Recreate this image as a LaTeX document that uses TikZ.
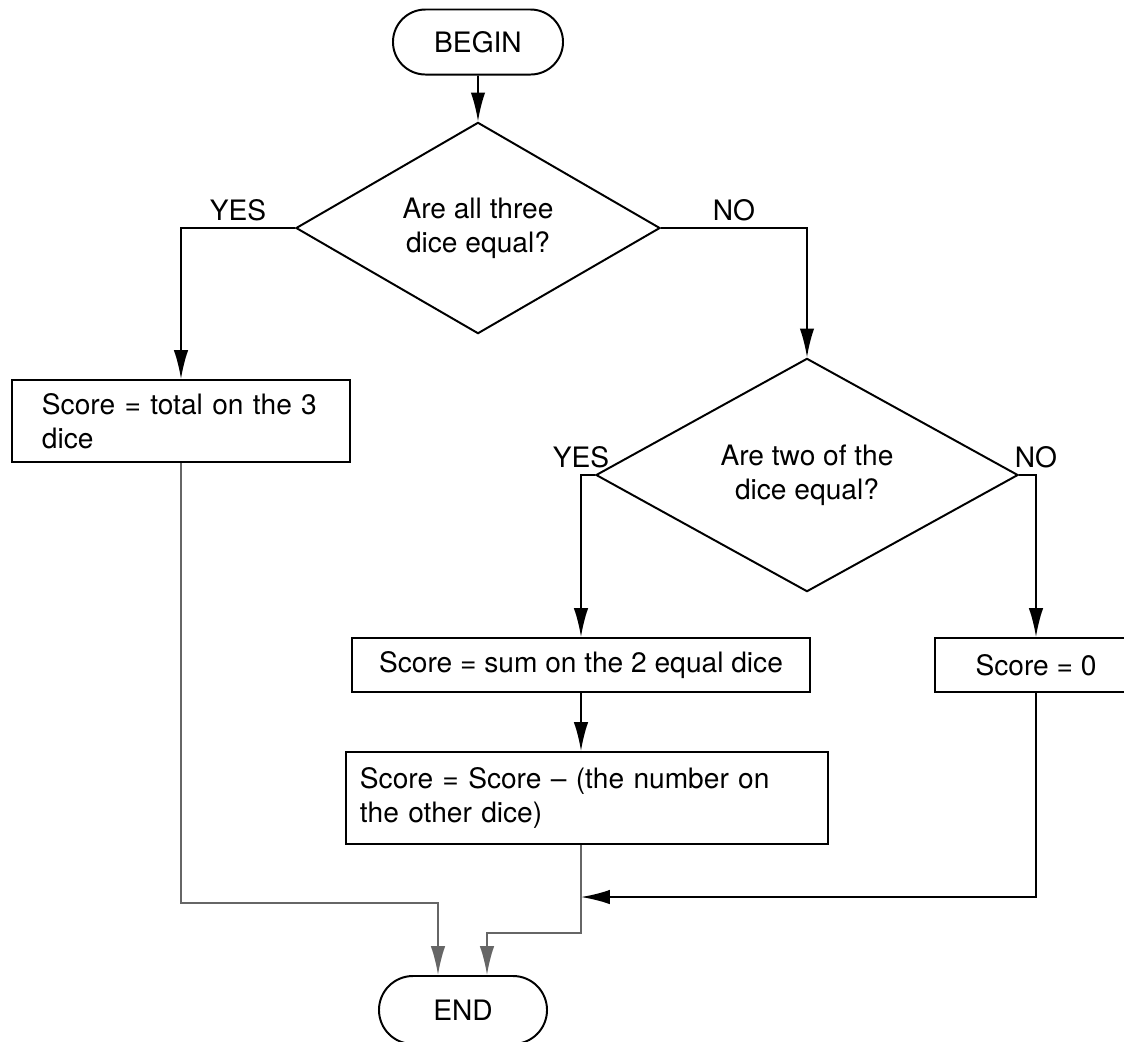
\documentclass[tikz,border=0pt]{standalone}
\usepackage{fontspec}
\setmainfont{TeX Gyre Heros}
\usetikzlibrary{shapes.geometric}
\usetikzlibrary{shapes.misc}
\usetikzlibrary{arrows.meta}

\colorlet{faint}{black!60}
\tikzset{
    term/.style={rounded rectangle,draw,inner sep=0pt},
    decision/.style={diamond,draw,inner sep=0pt,align=center},
    process/.style={rectangle,draw,inner sep=0pt},
    lbl/.style={above,inner sep=2pt}
}

\begin{document}
\begin{tikzpicture}[x=0.0125cm,y=-0.0125cm,line width=0.7pt,>={Latex[length=3.6mm,width=1.8mm]}]
        \useasboundingbox (0,0) rectangle (1124,1041);
        \clip (0,0) rectangle (1124,1041);
        \node[term,minimum width=2.125cm,minimum height=0.8125cm] (begin) at (478,42) {BEGIN};
        \node[decision,minimum width=4.55cm,minimum height=2.4375cm] (all) at (478,228) {Are all three\\dice equal?};
        \node[process,minimum height=1.025cm,text width=3.475cm,inner xsep=0.375cm,align=left] (total) at (181,421) {Score = total on the 3\\dice};
        \node[decision,minimum width=5.275cm,minimum height=2.4375cm] (two) at (807,475) {Are two of the\\dice equal?};
        \node[process,minimum width=5.7125cm,minimum height=0.675cm] (sum) at (581,665) {Score = sum on the 2 equal dice};
        \node[process,minimum width=2.525cm,minimum height=0.675cm] (zero) at (1036,665) {Score = 0};
        \node[process,minimum height=1.15cm,text width=5.675cm,inner xsep=0.175cm,align=left] (other) at (587,798) {Score = Score -- (the number on\\the other dice)};
        \node[term,minimum width=2.1cm,minimum height=0.85cm] (end) at (463,1010) {END};
        \coordinate (join) at (581,897);
        \coordinate (low) at (438,903);
        \coordinate (mid) at (487,933);
        \draw[->] (begin) -- (all);
        \draw[->] (all.west) -| node[lbl,pos=0.25] {YES} (total.north);
        \draw[->] (all.east) -| node[lbl,pos=0.25] {NO} (two.north);
        \draw[->] (two.west) -| node[lbl,pos=0.5] {YES} (sum.north);
        \draw[->] (two.east) -| node[lbl,pos=0.5] {NO} (zero.north);
        \draw[->] (sum) -- (sum.south |- other.north);
        \draw[->] (zero.south) |- (join);
        \draw[->,faint] (total.south) |- (low) -- (low |- end.north);
        \draw[->,faint] (sum.south |- other.south) |- (mid) -- (mid |- end.north);
    \end{tikzpicture}
\end{document}
